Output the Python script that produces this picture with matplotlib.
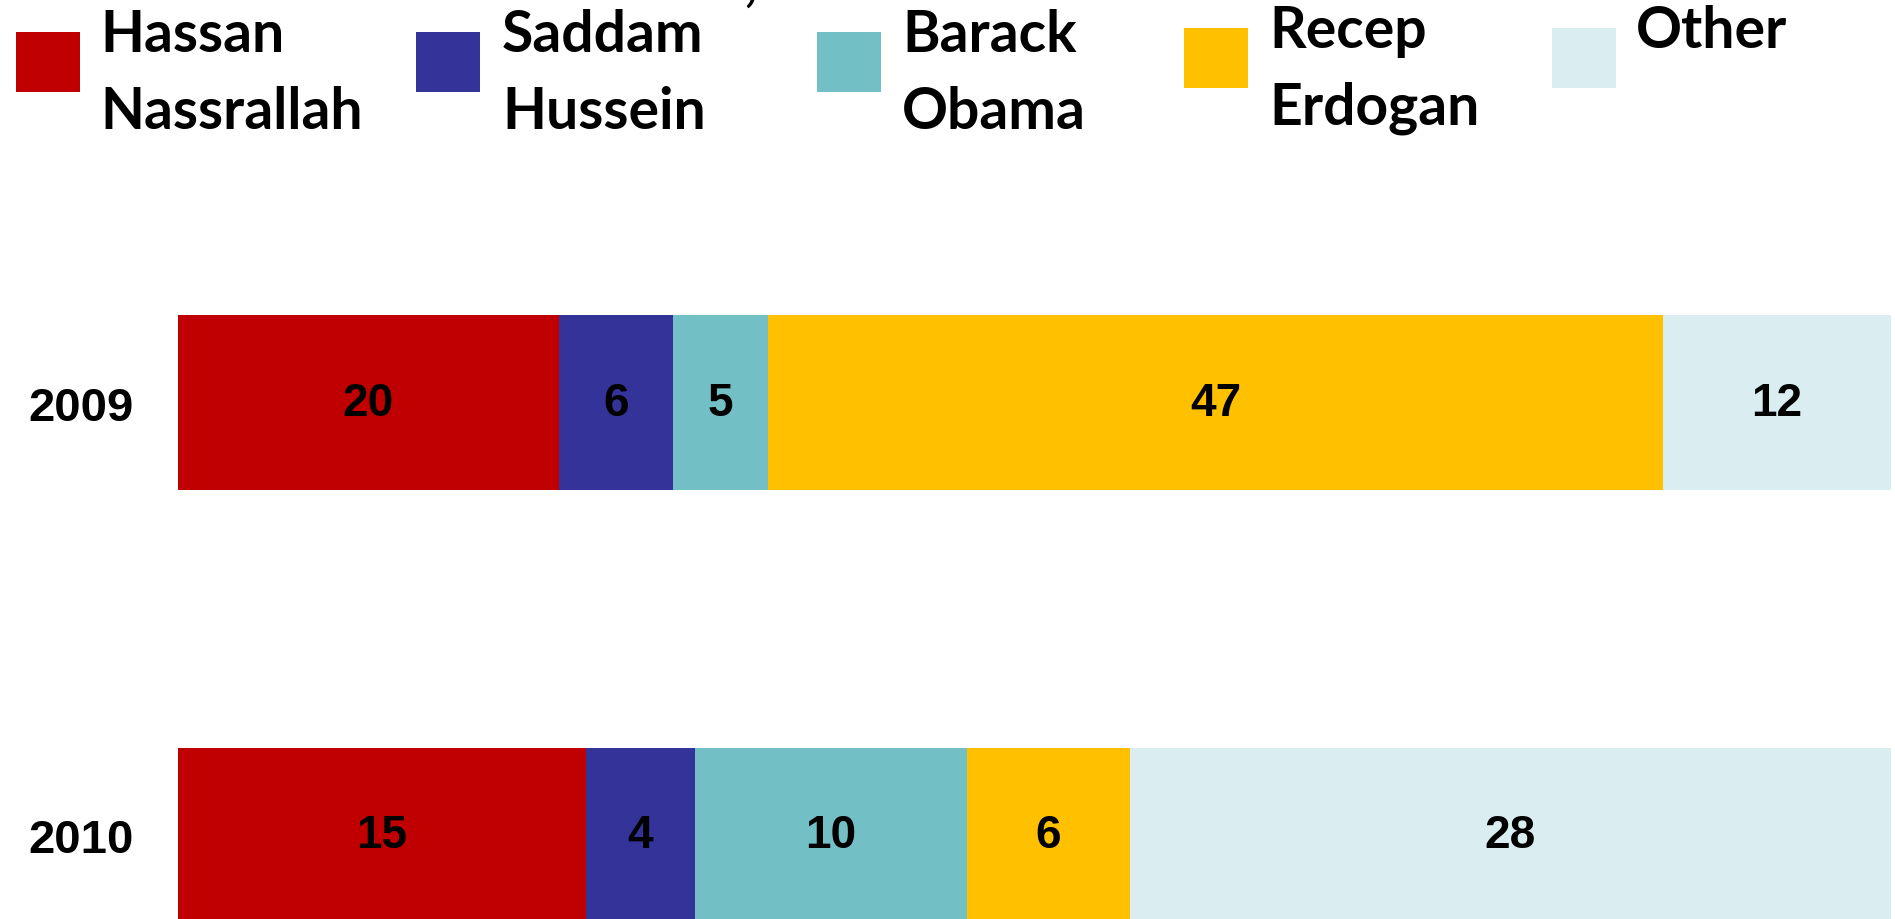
import matplotlib.pyplot as plt
from matplotlib.patches import Rectangle
import numpy as np

# values (each bar is drawn as its share of the year total)
YEARS = ["2009", "2010"]
LEADERS = ["Hassan\nNassrallah", "Saddam\nHussein", "Barack\nObama", "Recep\nErdogan", "Other"]
NASSRALLAH = [20, 15]
HUSSEIN = [6, 4]
OBAMA = [5, 10]
ERDOGAN = [47, 6]
OTHER = [12, 28]

COLORS = ["#C00000", "#343399", "#72BFC5", "#FFC000", "#DAEDF0"]

W, H = 1895, 920

fig = plt.figure(figsize=(W / 100, H / 100), dpi=100)
ax = fig.add_axes([178 / W, 0, (1891 - 178) / W, 1])

series = [NASSRALLAH, HUSSEIN, OBAMA, ERDOGAN, OTHER]
values = np.array(series, dtype=float)
totals = values.sum(axis=0)
shares = values / totals
y = np.arange(len(YEARS))

left = np.zeros(len(YEARS))
for vals, share, color in zip(series, shares, COLORS):
    ax.barh(y, share, left=left, height=0.404, color=color, linewidth=0)
    for yi, (v, l, s) in enumerate(zip(vals, left, share)):
        ax.text(l + s / 2, yi, str(v), ha="center", va="center",
                fontsize=33, fontweight="bold", family="Liberation Sans", color="black")
    left += share

ax.set_xlim(0, 1)
ax.set_ylim(1.193, -0.932)
ax.set_yticks(y, YEARS)
ax.tick_params(axis="y", length=0, pad=32, labelsize=34)
for lab in ax.get_yticklabels():
    lab.set_fontweight("bold")
    lab.set_family("Liberation Sans")
ax.set_xticks([])
for side in ax.spines.values():
    side.set_visible(False)

# legend row across the top, partly cut off like the source
patch_x = [16, 416, 817, 1184, 1552]
text_x = [100, 502, 902, 1269, 1636]
patch_top = [33, 33, 33, 29, 29]
for label, color, px, tx, pt in zip(LEADERS, COLORS, patch_x, text_x, patch_top):
    fig.add_artist(Rectangle((px / W, 1 - (pt + 60) / H), 64 / W, 60 / H,
                             transform=fig.transFigure, color=color, linewidth=0))
    fig.text(tx / W, 1 - (pt - 24) / H, label, ha="left", va="top",
             fontsize=41, fontweight="bold", family="Lato", linespacing=1.55)

# tail of the clipped title
fig.text(750 / W, 1.0, ",", ha="center", va="baseline",
         fontsize=41, fontweight="bold", family="Lato")

fig.savefig("out.png", dpi=100)
